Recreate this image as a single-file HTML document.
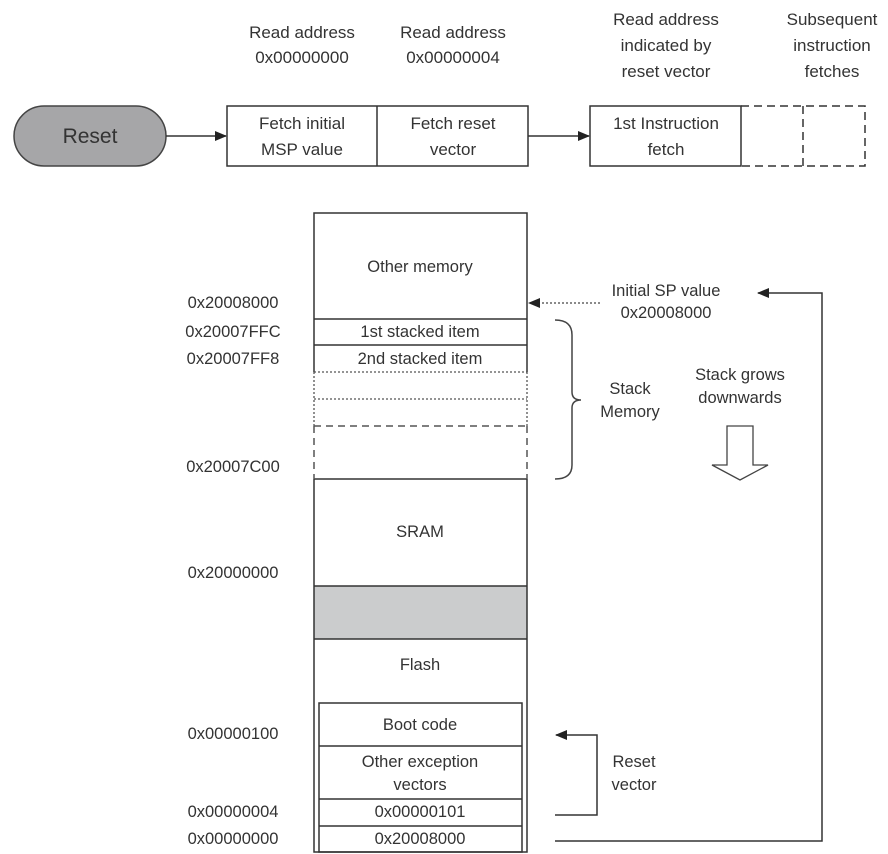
<!DOCTYPE html>
<html><head><meta charset="utf-8"><style>
html,body{margin:0;padding:0;background:#fff;}
svg{display:block;}
.t{font-family:"Liberation Sans",sans-serif;fill:#333;}
</style></head><body>
<svg width="888" height="854" viewBox="0 0 888 854" xmlns="http://www.w3.org/2000/svg">
<defs>
<marker id="ah" markerWidth="12" markerHeight="10" refX="11" refY="5" orient="auto" markerUnits="userSpaceOnUse">
<path d="M0,0 L12,5 L0,10 Z" fill="#222"/></marker>
</defs>
<g class="t" font-size="17" text-anchor="middle" style="font-family:'Liberation Sans Narrow','Liberation Sans',sans-serif">
<text x="302" y="38">Read address</text><text x="302" y="63">0x00000000</text>
<text x="453" y="38">Read address</text><text x="453" y="63">0x00000004</text>
<text x="666" y="25">Read address</text><text x="666" y="51">indicated by</text><text x="666" y="77">reset vector</text>
<text x="832" y="25">Subsequent</text><text x="832" y="51">instruction</text><text x="832" y="77">fetches</text>
<text x="302" y="129">Fetch initial</text><text x="302" y="155">MSP value</text>
<text x="453" y="129">Fetch reset</text><text x="453" y="155">vector</text>
<text x="666" y="129">1st Instruction</text><text x="666" y="155">fetch</text>
</g>
<rect x="14" y="106" width="152" height="60" rx="30" fill="#a6a6a8" stroke="#444" stroke-width="1.5"/>
<text class="t" x="90" y="143" font-size="21" text-anchor="middle">Reset</text>
<line x1="166" y1="136" x2="226" y2="136" stroke="#333" stroke-width="1.5" marker-end="url(#ah)"/>
<rect x="227" y="106" width="301" height="60" fill="none" stroke="#333" stroke-width="1.5"/>
<line x1="377" y1="106" x2="377" y2="166" stroke="#333" stroke-width="1.5"/>
<line x1="528" y1="136" x2="589" y2="136" stroke="#333" stroke-width="1.5" marker-end="url(#ah)"/>
<rect x="590" y="106" width="151" height="60" fill="none" stroke="#333" stroke-width="1.5"/>
<path d="M741,106 H865 V166 H741 M803,106 V166" fill="none" stroke="#333" stroke-width="1.5" stroke-dasharray="8,5"/>

<rect x="314" y="586" width="213" height="53" fill="#cbcccd"/>
<g stroke="#333" stroke-width="1.5" fill="none">
<path d="M314,372 V213 H527 V372"/>
<path d="M314,479 V852 H527 V479"/>
<line x1="314" y1="319" x2="527" y2="319"/>
<line x1="314" y1="345" x2="527" y2="345"/>
<line x1="314" y1="479" x2="527" y2="479"/>
<line x1="314" y1="586" x2="527" y2="586"/>
<line x1="314" y1="639" x2="527" y2="639"/>
<rect x="319" y="703" width="203" height="149"/>
<line x1="319" y1="746" x2="522" y2="746"/>
<line x1="319" y1="799" x2="522" y2="799"/>
<line x1="319" y1="826" x2="522" y2="826"/>
</g>
<g stroke="#555" stroke-width="1.3" fill="none" stroke-dasharray="2,2">
<line x1="314" y1="372" x2="527" y2="372"/>
<line x1="314" y1="399" x2="527" y2="399"/>
<line x1="314" y1="372" x2="314" y2="426"/>
<line x1="527" y1="372" x2="527" y2="426"/>
</g>
<g stroke="#555" stroke-width="1.5" fill="none" stroke-dasharray="7,5">
<line x1="314" y1="426" x2="527" y2="426"/>
<line x1="314" y1="426" x2="314" y2="479"/>
<line x1="527" y1="426" x2="527" y2="479"/>
</g>
<g class="t" font-size="16.5" text-anchor="middle">
<text x="420" y="272">Other memory</text>
<text x="420" y="337">1st stacked item</text>
<text x="420" y="364">2nd stacked item</text>
<text x="420" y="537">SRAM</text>
<text x="420" y="670">Flash</text>
<text x="420" y="730">Boot code</text>
<text x="420" y="767">Other exception</text>
<text x="420" y="790">vectors</text>
<text x="420" y="817">0x00000101</text>
<text x="420" y="844">0x20008000</text>
<text x="233" y="308">0x20008000</text>
<text x="233" y="337">0x20007FFC</text>
<text x="233" y="364">0x20007FF8</text>
<text x="233" y="472">0x20007C00</text>
<text x="233" y="578">0x20000000</text>
<text x="233" y="739">0x00000100</text>
<text x="233" y="817">0x00000004</text>
<text x="233" y="844">0x00000000</text>
<text x="666" y="296">Initial SP value</text>
<text x="666" y="318">0x20008000</text>
<text x="630" y="394">Stack</text>
<text x="630" y="417">Memory</text>
<text x="740" y="380">Stack grows</text>
<text x="740" y="403">downwards</text>
<text x="634" y="767">Reset</text>
<text x="634" y="790">vector</text>
</g>
<line x1="600" y1="303" x2="529" y2="303" stroke="#444" stroke-width="1.3" stroke-dasharray="2,2" marker-end="url(#ah)"/>
<path d="M555,320 Q572,320 572,335 V392 Q572,400 581,400 Q572,400 572,408 V465 Q572,479 555,479" fill="none" stroke="#444" stroke-width="1.5"/>
<path d="M727,426 H753 V465 H768 L740,480 L712,465 H727 Z" fill="#fff" stroke="#444" stroke-width="1.3"/>
<path d="M555,841 H822 V293 H758" fill="none" stroke="#333" stroke-width="1.5" marker-end="url(#ah)"/>
<path d="M555,815 H597 V735 H556" fill="none" stroke="#333" stroke-width="1.5" marker-end="url(#ah)"/>
</svg>
</body></html>
